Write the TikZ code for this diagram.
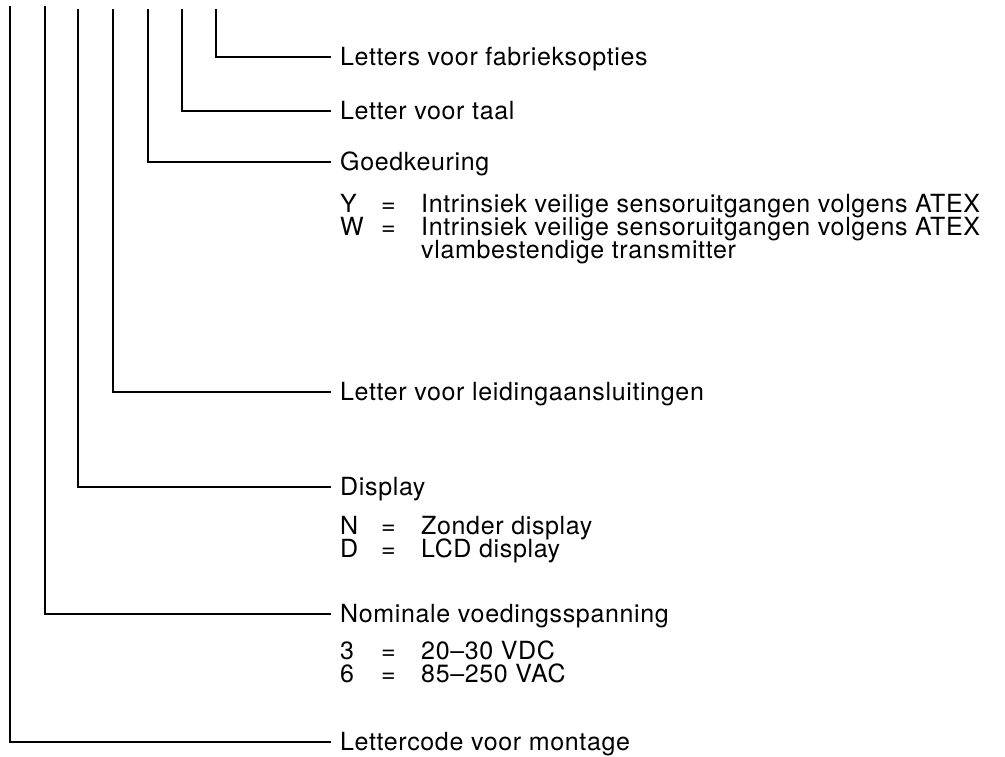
\documentclass[tikz,border=0pt]{standalone}
\usepackage{fontspec}
\setmainfont[LetterSpace=2.6]{TeX Gyre Heros}
\newcommand{\optrow}[2]{\makebox[41pt][l]{#1}\makebox[40pt][l]{=}#2}

\begin{document}
\begin{tikzpicture}[
  x=1pt, y=-1pt,
  lead/.style={line width=1.6pt},
  lbl/.style={anchor=base west, inner xsep=9pt, inner ysep=0pt, text height=17pt, text depth=0pt, font=\fontsize{25}{23}\selectfont},
  opt/.style={anchor=base west, inner sep=0pt, text height=17pt, text depth=0pt, font=\fontsize{25}{23}\selectfont}
]
\useasboundingbox (0,0) rectangle (1005,756);

\coordinate (c1) at (10,6);
\coordinate (c2) at (45,6);
\coordinate (c3) at (78,9);
\coordinate (c4) at (113,9);
\coordinate (c5) at (148,9);
\coordinate (c6) at (182,9);
\coordinate (c7) at (216,9);

\node[lbl] (fabr) at (331,65.5) {Letters voor fabrieksopties};
\node[lbl] (taal) at (331,119.5) {Letter voor taal};
\node[lbl] (goedk) at (331,170.5) {Goedkeuring};
\node[opt] (goedkY) at (340,212.5) {\optrow{Y}{Intrinsiek veilige sensoruitgangen volgens ATEX}};
\node[opt] (goedkW) at (340,235.5) {\optrow{W}{Intrinsiek veilige sensoruitgangen volgens ATEX}};
\node[opt] (goedkW2) at (340,258.5) {\hspace*{81pt}vlambestendige transmitter};
\node[lbl] (leid) at (331,400.5) {Letter voor leidingaansluitingen};
\node[lbl] (disp) at (331,495.5) {Display};
\node[opt] (dispN) at (340,534) {\optrow{N}{Zonder display}};
\node[opt] (dispD) at (340,557) {\optrow{D}{LCD display}};
\node[lbl] (voed) at (331,622.5) {Nominale voedingsspanning};
\node[opt] (voed3) at (340,659.5) {\optrow{3}{20--30 VDC}};
\node[opt] (voed6) at (340,682.5) {\optrow{6}{85--250 VAC}};
\node[lbl] (mont) at (331,750.5) {Lettercode voor montage};

\draw[lead] (c7) |- (fabr.west);
\draw[lead] (c6) |- (taal.west);
\draw[lead] (c5) |- (goedk.west);
\draw[lead] (c4) |- (leid.west);
\draw[lead] (c3) |- (disp.west);
\draw[lead] (c2) |- (voed.west);
\draw[lead] (c1) |- (mont.west);

\end{tikzpicture}
\end{document}
